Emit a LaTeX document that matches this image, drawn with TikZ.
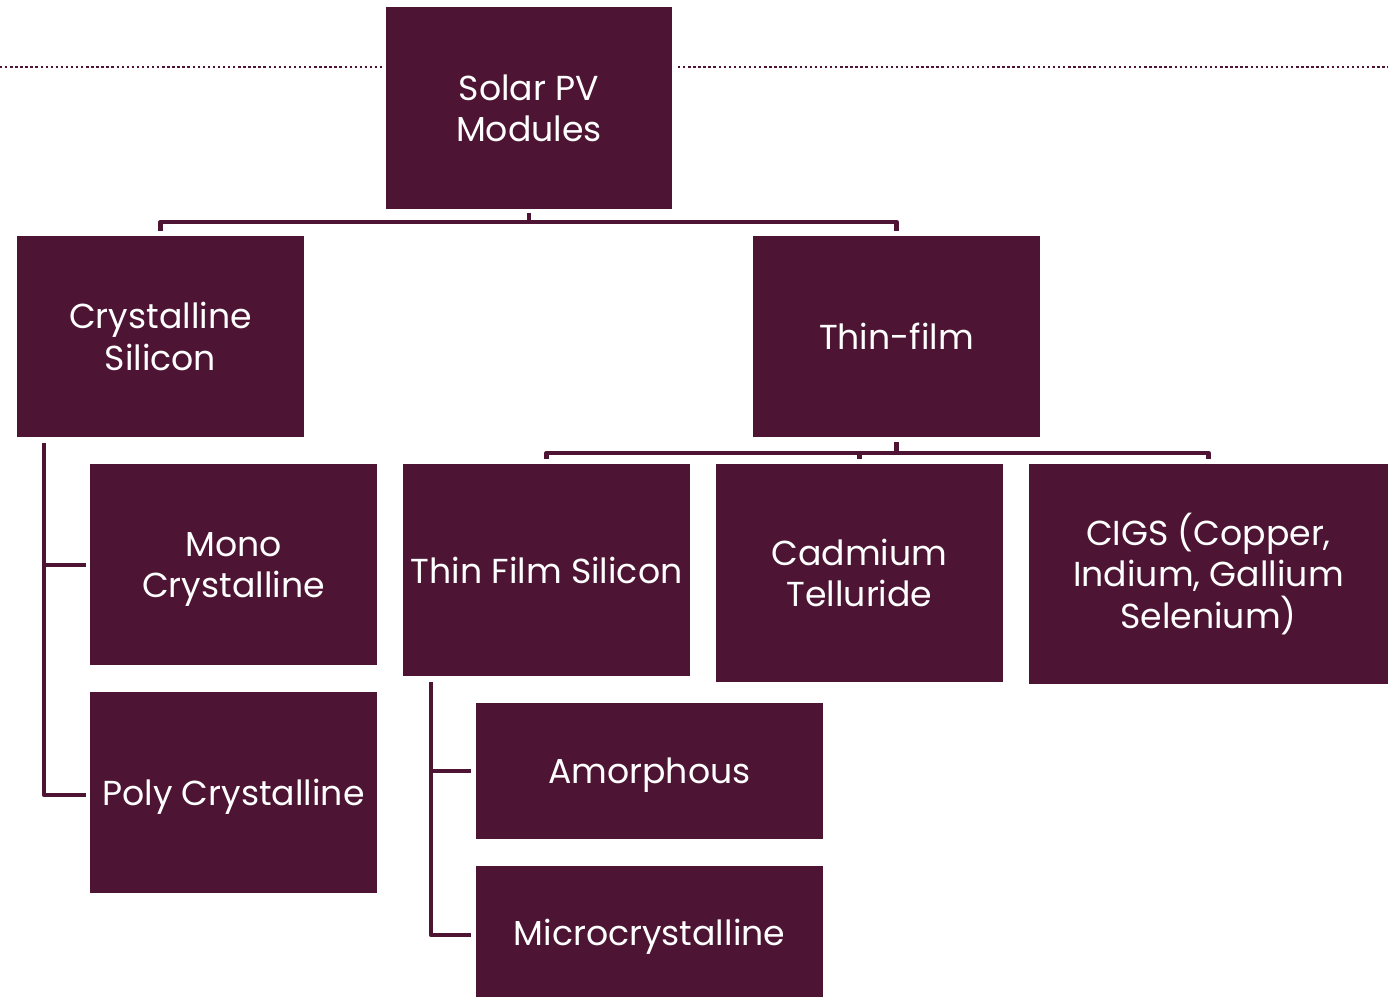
\documentclass[tikz,border=0pt]{standalone}
\usepackage{fontspec}
\setmainfont{Poppins}
\definecolor{maroon}{HTML}{4D1533}
\begin{document}
\begin{tikzpicture}[x=0.75pt,y=-0.75pt,
  box/.style={fill=maroon,draw=none,text=white,align=center,font=\fontsize{26}{31}\selectfont,inner sep=0pt},
  conn/.style={draw=maroon,line width=3.5pt,line join=round}]
\useasboundingbox (0,0) rectangle (1388,997);
\draw[maroon,line width=1.8pt,dotted] (0,67) -- (382,67);
\draw[maroon,line width=1.8pt,dotted] (678,67) -- (1388,67);
\newcommand{\mybox}[7]{%
  \fill[maroon] (#1,#2) rectangle (#3,#4);
  \node[box,yshift=#7] (#5) at ({(#1+#3)/2},{(#2+#4)/2}) {#6};}
\mybox{386}{7}{672}{209}{pv}{Solar PV\\Modules}{0pt}
\mybox{17}{236}{304}{437}{cs}{Crystalline\\Silicon}{0pt}
\mybox{753}{236}{1040}{437}{tf}{Thin-film}{0pt}
\mybox{90}{464}{377}{665}{mono}{Mono\\Crystalline}{-3.5pt}
\mybox{90}{692}{377}{893}{poly}{Poly Crystalline}{-3pt}
\mybox{403}{464}{690}{676}{tfs}{Thin Film Silicon}{0pt}
\mybox{716}{464}{1003}{682}{cdte}{Cadmium\\Telluride}{0pt}
\mybox{1029}{464}{1388}{684}{cigs}{CIGS (Copper,\\Indium, Gallium\\Selenium)}{0pt}
\mybox{476}{703}{823}{839}{amo}{Amorphous}{-3pt}
\mybox{476}{866}{823}{997}{micro}{Microcrystalline}{-4pt}
% connectors
\draw[conn] (pv.center |- 0,213) -- (pv.center |- 0,222) -- (cs.center |- 0,222) -- (cs.center |- 0,231);
\draw[conn] (pv.center |- 0,222) -- (tf.center |- 0,222) -- (tf.center |- 0,231);
\draw[conn] (tf.center |- 0,442) -- (tf.center |- 0,453) -- (tfs.center |- 0,453) -- (tfs.center |- 0,459);
\draw[conn] (tf.center |- 0,453) -- (cigs.center |- 0,453) -- (cigs.center |- 0,459);
\draw[conn] (cdte.center |- 0,453) -- (cdte.center |- 0,459);
\draw[conn] (44,443) -- (44,795) -- (86,795);
\draw[conn] (44,565) -- (86,565);
\draw[conn] (431,682) -- (431,935) -- (471,935);
\draw[conn] (431,771) -- (471,771);
\end{tikzpicture}
\end{document}
